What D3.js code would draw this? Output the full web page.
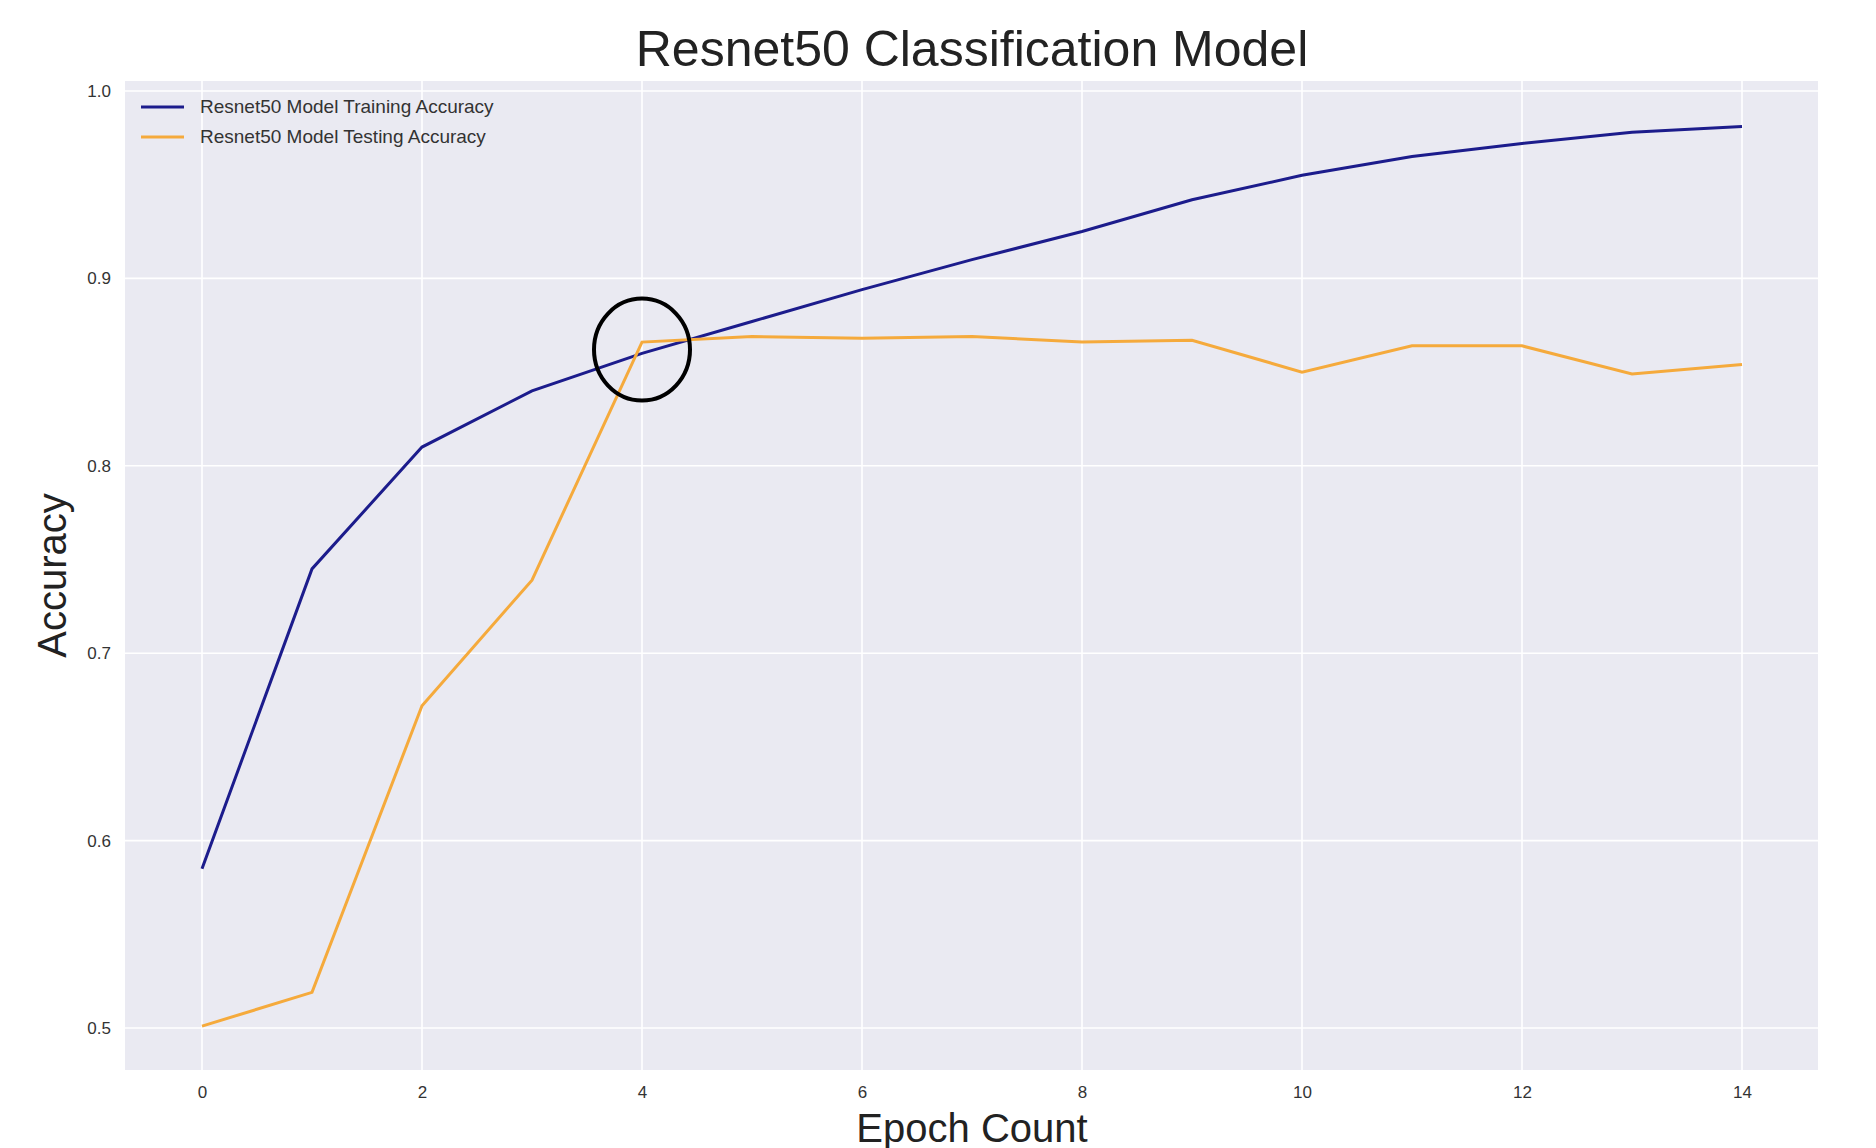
<!DOCTYPE html>
<html>
<head>
<meta charset="utf-8">
<script src="https://cdn.jsdelivr.net/npm/d3@7"></script>
<style>
  body { margin: 0; background: #fff; }
  text { font-family: "Liberation Sans", Arial, sans-serif; }
</style>
</head>
<body>
<svg id="chart" width="1876" height="1148"></svg>
<script>
// data
let epochs = d3.range(0, 15)
let trainAcc = [0.585, 0.745, 0.81, 0.84, 0.86, 0.877, 0.894, 0.91, 0.925, 0.942, 0.955, 0.965, 0.972, 0.978, 0.981]
let testAcc = [0.501, 0.519, 0.672, 0.739, 0.866, 0.869, 0.868, 0.869, 0.866, 0.867, 0.850, 0.864, 0.864, 0.849, 0.854]
let xTicks = [0, 2, 4, 6, 8, 10, 12, 14]
let yTicks = [0.5, 0.6, 0.7, 0.8, 0.9, 1.0]
let seriesNames = ["Resnet50 Model Training Accuracy", "Resnet50 Model Testing Accuracy"]
let seriesColors = ["#1c1c8c", "#f5aa3c"]

let svg = d3.select("#chart")
let pLeft = 125, pRight = 1818, pTop = 81, pBottom = 1070

let x = d3.scaleLinear().domain([0, 14]).range([202, 1742])
let y = d3.scaleLinear().domain([0.5, 1.0]).range([1028, 91])

svg.append("rect").attr("x", pLeft).attr("y", pTop)
    .attr("width", pRight - pLeft).attr("height", pBottom - pTop).attr("fill", "#eaeaf2")

// grid
svg.append("g").selectAll("line").data(xTicks).enter().append("line")
    .attr("x1", d => x(d)).attr("x2", d => x(d)).attr("y1", pTop).attr("y2", pBottom)
    .attr("stroke", "#fff").attr("stroke-width", 1.6)
svg.append("g").selectAll("line").data(yTicks).enter().append("line")
    .attr("y1", d => y(d)).attr("y2", d => y(d)).attr("x1", pLeft).attr("x2", pRight)
    .attr("stroke", "#fff").attr("stroke-width", 1.6)

// axes (labels only, like seaborn darkgrid)
let xAxis = svg.append("g").attr("transform", "translate(0," + pBottom + ")")
    .call(d3.axisBottom(x).tickValues(xTicks).tickSize(0).tickPadding(16).tickFormat(d3.format("d")))
let yAxis = svg.append("g").attr("transform", "translate(" + pLeft + ",0)")
    .call(d3.axisLeft(y).tickValues(yTicks).tickSize(0).tickPadding(14).tickFormat(d3.format(".1f")))
;[xAxis, yAxis].forEach(a => {
    a.select(".domain").remove()
    a.selectAll("text").attr("font-size", 17).attr("fill", "#333")
        .style("font-family", "'Liberation Sans Narrow', 'Liberation Sans', sans-serif")
})

let line = d3.line().x((d, i) => x(epochs[i])).y(d => y(d))
;[trainAcc, testAcc].forEach((s, k) => {
    svg.append("path").datum(s).attr("d", line).attr("fill", "none")
        .attr("stroke", seriesColors[k]).attr("stroke-width", 3)
})

// highlight circle where the curves cross
svg.append("ellipse").attr("cx", x(4)).attr("cy", y(0.862))
    .attr("rx", 48).attr("ry", 51).attr("fill", "none").attr("stroke", "#000").attr("stroke-width", 4)

// legend
seriesNames.forEach((n, k) => {
    let ly = 107 + k * 30
    svg.append("line").attr("x1", 141).attr("x2", 184).attr("y1", ly).attr("y2", ly)
        .attr("stroke", seriesColors[k]).attr("stroke-width", 3)
    svg.append("text").attr("x", 200).attr("y", ly + 6).attr("font-size", 19).attr("fill", "#333")
        .style("font-family", "'Liberation Sans Narrow', 'Liberation Sans', sans-serif").text(n)
})

svg.append("text").attr("x", 972).attr("y", 66).attr("text-anchor", "middle")
    .attr("font-size", 50).attr("fill", "#222").text("Resnet50 Classification Model")
svg.append("text").attr("x", 972).attr("y", 1142).attr("text-anchor", "middle")
    .attr("font-size", 40).attr("fill", "#222").text("Epoch Count")
svg.append("text").attr("transform", "translate(66," + ((pTop + pBottom) / 2) + ") rotate(-90)")
    .attr("text-anchor", "middle").attr("font-size", 40).attr("fill", "#222").text("Accuracy")
</script>
</body>
</html>
